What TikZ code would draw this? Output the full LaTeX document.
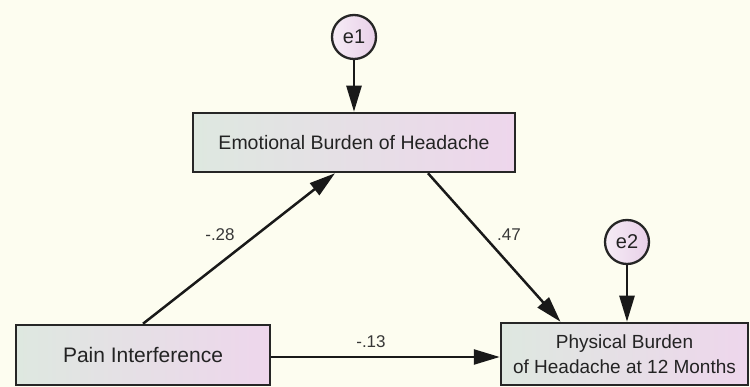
\documentclass[tikz,border=0pt]{standalone}
\usepackage{fontspec}
\setmainfont{Liberation Sans}
\usetikzlibrary{arrows.meta,calc}
\definecolor{bgcol}{RGB}{253,253,240}
\definecolor{boxL}{RGB}{222,232,224}
\definecolor{boxR}{RGB}{238,214,236}
\definecolor{circL}{RGB}{246,236,246}
\definecolor{circR}{RGB}{232,208,232}
\definecolor{txt}{RGB}{35,35,35}
\definecolor{lbl}{RGB}{55,55,55}
\begin{document}
\begin{tikzpicture}[x=1pt,y=-1pt,
  varbox/.style={draw=black!85, line width=2.5pt, left color=boxL, right color=boxR,
    inner sep=0pt, text=txt, align=center},
  errc/.style={circle, draw=black!85, line width=2.3pt, left color=circL, right color=circR,
    minimum size=44pt, inner sep=0pt, text=txt, font=\fontsize{20}{22}\selectfont},
  path/.style={line width=2.5pt, black!90, -{Triangle[length=26pt,width=15pt]}},
  coef/.style={text=lbl, font=\fontsize{17}{19}\selectfont}]
\useasboundingbox (0,0) rectangle (750,387);
\fill[bgcol] (0,0) rectangle (750,387);

\node[varbox, minimum width=322pt, minimum height=59pt, font=\fontsize{19.5}{22}\selectfont]
  (emo) at (354,142.5) {Emotional Burden of Headache};
\node[varbox, minimum width=254pt, minimum height=60pt, font=\fontsize{21}{24}\selectfont]
  (pain) at (143,355) {Pain Interference};
\node[varbox, minimum width=247pt, minimum height=62pt, font=\fontsize{19}{25}\selectfont]
  (phys) at (624.5,354) {Physical Burden\\of Headache at 12 Months};
\node[errc] (e1) at (354,37) {e1};
\node[errc] (e2) at (627,242) {e2};

\draw[path] (e1) -- (emo);
\draw[path] (e2) -- (phys.north -| e2);
\draw[path] (pain.north) -- ($(emo.south)+(-19,0)$);
\draw[path] ($(emo.south)+(74,0)$) -- ($(phys.north)+(-64,0)$);
\draw[path] (pain.east |- 0,357) -- (phys.west |- 0,357);

\node[coef] (c1) at (220,235) {-.28};
\node[coef] (c2) at (509,235) {.47};
\node[coef] (c3) at (371,342) {-.13};
\end{tikzpicture}
\end{document}
